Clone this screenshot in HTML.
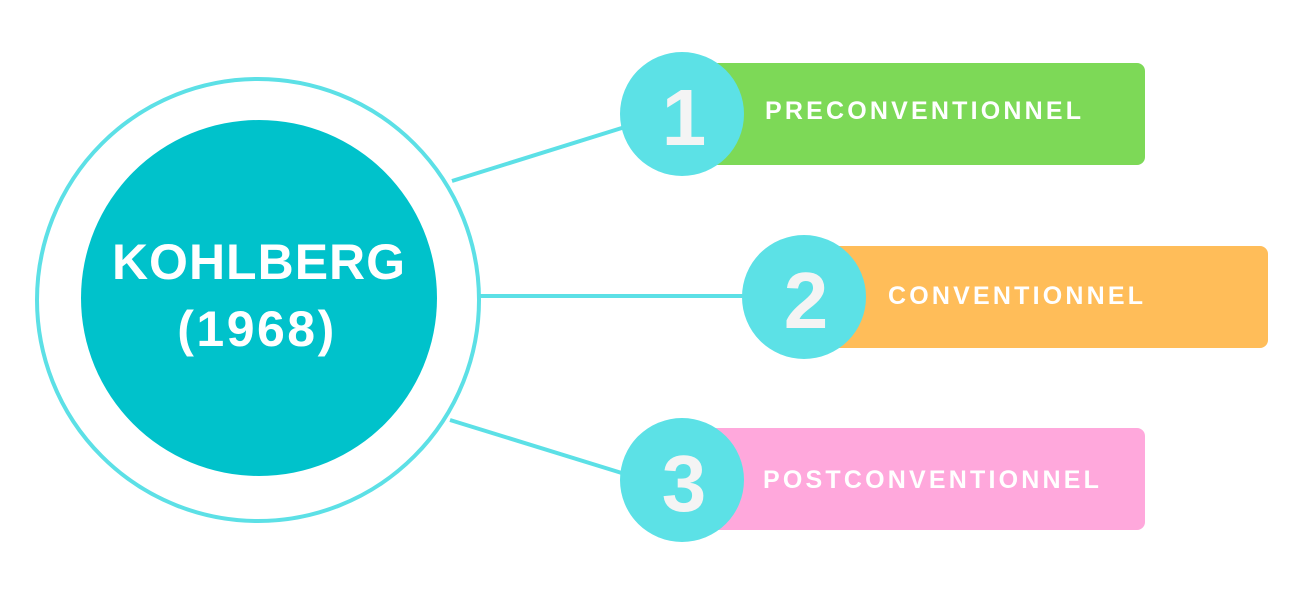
<!DOCTYPE html>
<html><head><meta charset="utf-8"><style>
html,body{margin:0;padding:0;background:#fff;}
svg{display:block}
</style></head><body>
<svg width="1300" height="600" viewBox="0 0 1300 600" xmlns="http://www.w3.org/2000/svg">
<g stroke="#5ce0e6" stroke-width="4" fill="none">
<line x1="452" y1="181" x2="625" y2="127"/>
<line x1="478" y1="296" x2="750" y2="296"/>
<line x1="450" y1="420" x2="625" y2="474"/>
<circle cx="258" cy="300" r="221"/>
</g>
<circle cx="259" cy="298" r="178" fill="#00c2cb"/>
<g font-family="Liberation Sans, sans-serif" font-weight="bold" fill="#fff" text-anchor="middle">
<text x="259" y="279" font-size="50" letter-spacing="1">KOHLBERG</text>
<text x="257" y="346" font-size="50" letter-spacing="2.5">(1968)</text>
</g>
<rect x="700" y="63" width="445" height="102" rx="8" fill="#7dd957"/>
<rect x="822" y="246" width="446" height="102" rx="8" fill="#ffbd59"/>
<rect x="700" y="428" width="445" height="102" rx="8" fill="#ffa8dc"/>
<circle cx="682" cy="114" r="62" fill="#5ce1e6"/>
<circle cx="804" cy="297" r="62" fill="#5ce1e6"/>
<circle cx="682" cy="480" r="62" fill="#5ce1e6"/>
<g font-family="Liberation Sans, sans-serif" font-weight="bold" fill="#f4f4f4" text-anchor="middle" font-size="80">
<text x="684" y="145">1</text>
<text x="806" y="328">2</text>
<text x="684" y="511">3</text>
</g>
<g font-family="Liberation Sans, sans-serif" font-weight="bold" fill="#fff" font-size="25" letter-spacing="3.2">
<text x="765" y="119">PRECONVENTIONNEL</text>
<text x="888" y="304">CONVENTIONNEL</text>
<text x="763" y="488">POSTCONVENTIONNEL</text>
</g>
</svg>
</body></html>
